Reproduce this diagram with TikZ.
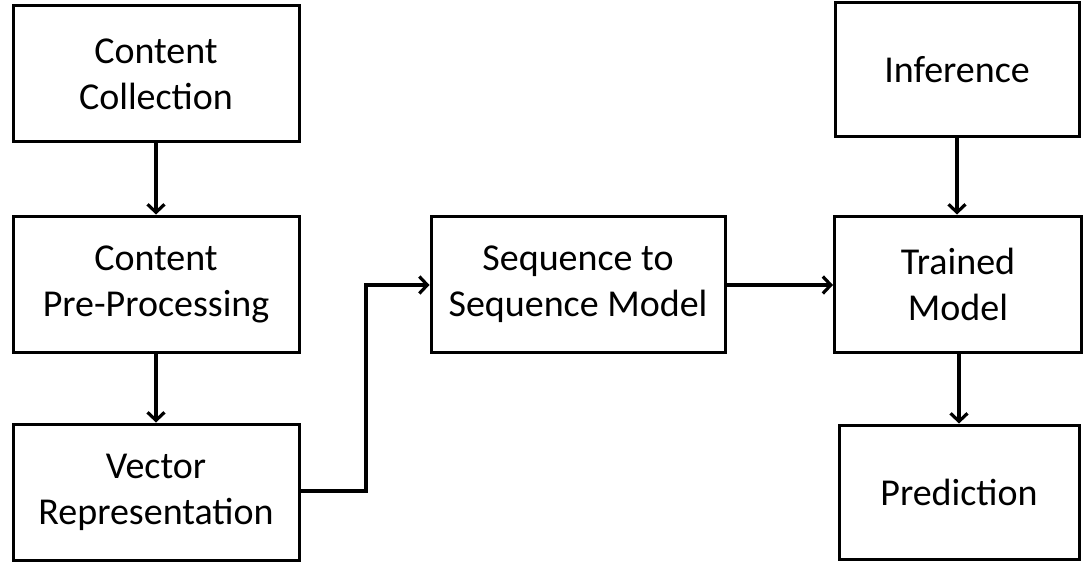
\documentclass[tikz,border=0pt]{standalone}
\usepackage{fontspec}
\setmainfont{Carlito}
\usetikzlibrary{arrows.meta}
\tikzset{
  flowbox/.style={draw=black,line width=3pt,align=center,inner sep=0pt,
    font=\fontsize{38}{46}\selectfont},
  flowtip/.tip={Straight Barb[length=8pt,width=17pt]},
  flowarrow/.style={line width=3.2pt,-flowtip}
}
\begin{document}
\begin{tikzpicture}[x=1pt,y=-1pt]
\useasboundingbox (0,0) rectangle (1086,564);
\node[flowbox,minimum width=286pt,minimum height=136pt] (cc) at (156,74) {Content\\Collection};
\node[flowbox,minimum width=286pt,minimum height=136pt] (pp) at (156,284) {Content\\Pre-Processing};
\node[flowbox,minimum width=286pt,minimum height=136pt] (vr) at (156,492) {Vector\\Representation};
\node[flowbox,minimum width=294pt,minimum height=136pt] (sq) at (578,284) {Sequence to\\Sequence Model};
\node[flowbox,minimum width=244pt,minimum height=134pt] (inf) at (957,70) {Inference};
\node[flowbox,minimum width=247pt,minimum height=136pt] (tm) at (958,284) {Trained\\Model};
\node[flowbox,minimum width=240pt,minimum height=134pt] (pr) at (959,492) {Prediction};
\coordinate (b1) at (366,491);
\coordinate (b2) at (366,285);
\draw[flowarrow] (cc.south) -- (pp.north);
\draw[flowarrow] (pp.south) -- (vr.north);
\draw[flowarrow] (vr.east |- b1) -- (b1) -- (b2) -- (sq.west |- b2);
\draw[flowarrow] (sq.east |- b2) -- (tm.west |- b2);
\draw[flowarrow] (inf.south) -- (inf.south |- tm.north);
\draw[flowarrow] (tm.south -| pr.north) -- (pr.north);
\end{tikzpicture}
\end{document}
